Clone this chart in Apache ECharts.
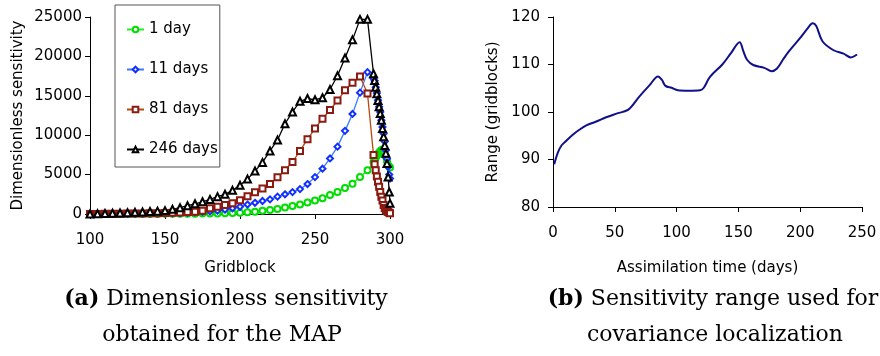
<!DOCTYPE html>
<html>
<head>
<meta charset="utf-8">
<script src="https://cdn.jsdelivr.net/npm/echarts/dist/echarts.min.js"></script>
<style>
html,body{margin:0;padding:0;background:#fff;}
#c{width:880px;height:356px;}
</style>
</head>
<body>
<div id="c"></div>
<script>
// ---- Panel (a): dimensionless sensitivity vs gridblock ----
const gridblock = [100,105,110,115,120,125,130,135,140,145,
  150,155,160,165,170,175,180,185,190,195,
  200,205,210,215,220,225,230,235,240,245,
  250,255,260,265,270,275,280,285,
  289,289.75,290.5,291.25,292,292.75,293.5,294.25,295,295.75,296.5,297.25,298,298.75,299.5,300];
const day1 = [0,0,0,0,0,5,5,10,10,15,
  20,25,30,35,40,50,60,75,95,120,
  160,220,300,400,520,650,820,1000,1200,1450,
  1700,2000,2400,2800,3300,3850,4700,5550,
  6600,6900,7150,7400,7600,7800,7950,8100,8200,8150,7800,7300,6700,6200,6000,5900];
const day11 = [0,5,10,15,20,25,30,40,50,60,
  70,90,120,160,210,270,340,430,550,720,
  920,1200,1420,1650,1860,2200,2500,2780,3160,3800,
  4680,5750,7050,8550,10550,12700,15400,18000,
  17200,16900,16100,15350,14450,13600,12950,11900,11050,10200,9200,8100,7000,6000,5000,4500];
const day81 = [0,10,20,30,40,50,60,75,90,105,
  120,150,190,240,290,420,720,920,1140,1350,
  1750,2250,2750,3250,3800,4650,5550,6600,8000,9500,
  10850,12100,13200,14400,15700,16650,17450,15300,
  7500,6300,5550,4750,4100,3450,2800,2200,1700,1150,750,500,350,250,150,100];
const day246 = [0,30,60,90,120,170,210,260,310,360,
  430,590,800,1050,1300,1550,1850,2200,2500,3000,
  3650,4430,5450,6550,8000,9400,11450,12950,14300,14650,
  14500,14750,15800,17550,19800,22100,24700,24700,
  17800,16950,16100,15250,14400,13600,12750,11900,10850,9800,8700,7700,6400,4700,2800,1350];
const seriesNames = ['1 day','11 days','81 days','246 days'];
const sensTicks = [0,5000,10000,15000,20000,25000];
const gridTicks = [100,150,200,250,300];

// ---- Panel (b): sensitivity range vs assimilation time ----
const assimDays = [1,4,7,11,16,21,27,35,43,52,61,70,78,85,88,91,96,101,110,119,
  122,127,137,144,151,154,157,162,171,177,181,186,191,200,206,210,213,218,227,235,241,246];
const rangeVals = [89.0,91.5,93.0,94.0,95.2,96.2,97.2,98.0,98.9,99.7,100.5,103.3,105.6,107.5,106.8,105.5,105.1,104.6,104.5,104.6,
  105.1,107.4,110.0,112.4,114.7,112.8,111.0,109.9,109.3,108.6,109.1,111.0,112.8,115.6,117.6,118.7,118.1,114.9,113.0,112.3,111.5,112.1];
const rangeTicks = [80,90,100,110,120];
const timeTicks = [0,50,100,150,200,250];

const F = 'DejaVu Sans';
const SERIF = 'DejaVu Serif';
const pairs = vals => gridblock.map((g,i)=>[g, vals[i]]);

const chart = echarts.init(document.getElementById('c'), null, {renderer:'canvas'});

function axisCommon(margin){
  return {
    axisLine:{show:true, lineStyle:{color:'#000', width:1}},
    axisTick:{show:true, inside:false, length:5, lineStyle:{color:'#000'}},
    splitLine:{show:false},
    axisLabel:{color:'#000', fontFamily:F, fontSize:15, margin:margin, formatter: v => String(v)},
    nameTextStyle:{color:'#000', fontFamily:F, fontSize:15},
    nameLocation:'middle'
  };
}

const styles = [
  {sym:'emptyCircle', size:6, line:'#22ee22', mark:'#00dd00'},
  {sym:'emptyDiamond', size:6, line:'#3a7aff', mark:'#1030ff'},
  {sym:'emptyRect', size:6, line:'#b34a10', mark:'#8b1a10'},
  {sym:'emptyTriangle', size:7, line:'#000000', mark:'#000000'}
];
const dataSets = [day1, day11, day81, day246];

const option = {
  backgroundColor:'#fff',
  animation:false,
  grid:[
    {left:90, top:17, width:300, height:197},
    {left:553, top:17, width:309, height:190}
  ],
  xAxis:[
    Object.assign(axisCommon(19), {gridIndex:0, type:'value', min:gridTicks[0], max:gridTicks[gridTicks.length-1], interval:50,
      name:'Gridblock', nameGap:47}),
    Object.assign(axisCommon(19), {gridIndex:1, type:'value', min:timeTicks[0], max:timeTicks[timeTicks.length-1], interval:50,
      name:'Assimilation time (days)', nameGap:54})
  ],
  yAxis:[
    Object.assign(axisCommon(8), {gridIndex:0, type:'value', min:sensTicks[0], max:sensTicks[sensTicks.length-1], interval:5000,
      name:'Dimensionless sensitivity', nameGap:64}),
    Object.assign(axisCommon(13), {gridIndex:1, type:'value', min:rangeTicks[0], max:rangeTicks[rangeTicks.length-1], interval:10,
      name:'Range (gridblocks)', nameGap:52})
  ],
  legend:{
    show:true, orient:'vertical', left:115, top:5,
    data:seriesNames,
    backgroundColor:'#fff', borderColor:'#555', borderWidth:1,
    padding:[16,2,9,11],
    itemWidth:17, itemHeight:7, itemGap:23,
    textStyle:{color:'#000', fontFamily:F, fontSize:15, lineHeight:17},
    z:10
  },
  series: dataSets.map((d,i)=>({
    name:seriesNames[i], type:'line', xAxisIndex:0, yAxisIndex:0,
    data:pairs(d),
    symbol:styles[i].sym, symbolSize:styles[i].size, showAllSymbol:true,
    lineStyle:{color:styles[i].line, width:1.3},
    itemStyle:{color:styles[i].mark, borderWidth:1},
    emphasis:{disabled:true}
  })).concat([{
    name:'range', type:'line', xAxisIndex:1, yAxisIndex:1,
    data:assimDays.map((d,i)=>[d, rangeVals[i]]),
    smooth:0.35, symbol:'none',
    lineStyle:{color:'#10108a', width:2},
    emphasis:{disabled:true}
  }]),
  graphic:[
    {type:'text', x:226, y:299, style:{text:'{b|(a)} Dimensionless sensitivity', fontFamily:SERIF, fontSize:22, fill:'#000', align:'center', verticalAlign:'middle',
      rich:{b:{fontWeight:'bold', fontFamily:SERIF, fontSize:22}}}},
    {type:'text', x:222, y:335, style:{text:'obtained for the MAP', fontFamily:SERIF, fontSize:22, fill:'#000', align:'center', verticalAlign:'middle'}},
    {type:'text', x:713, y:299, style:{text:'{b|(b)} Sensitivity range used for', fontFamily:SERIF, fontSize:22, fill:'#000', align:'center', verticalAlign:'middle',
      rich:{b:{fontWeight:'bold', fontFamily:SERIF, fontSize:22}}}},
    {type:'text', x:715, y:335, style:{text:'covariance localization', fontFamily:SERIF, fontSize:22, fill:'#000', align:'center', verticalAlign:'middle'}}
  ]
};
chart.setOption(option);
</script>
</body>
</html>
